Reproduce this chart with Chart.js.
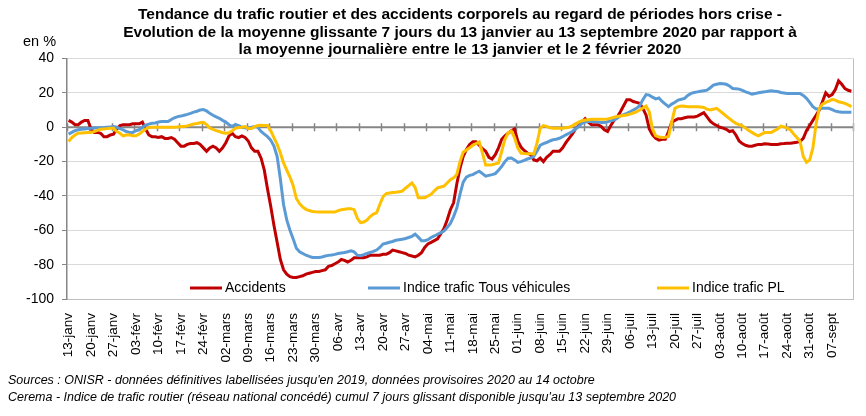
<!DOCTYPE html>
<html>
<head>
<meta charset="utf-8">
<script src="https://cdn.jsdelivr.net/npm/chart.js@4.4.0/dist/chart.umd.min.js"></script>
<style>
  html, body { margin: 0; padding: 0; background: #fff; }
  #wrap { width: 866px; height: 416px; }
</style>
</head>
<body>
<div id="wrap"><canvas id="canva1" width="866" height="416"></canvas></div>
<script>
// one value per day, 13 Jan -> 13 Sep 2020 (rows = weeks)
const tickLabels = ['13-janv', '20-janv', '27-janv', '03-févr', '10-févr', '17-févr', '24-févr', '02-mars', '09-mars', '16-mars',
  '23-mars', '30-mars', '06-avr', '13-avr', '20-avr', '27-avr', '04-mai', '11-mai', '18-mai', '25-mai', '01-juin', '08-juin',
  '15-juin', '22-juin', '29-juin', '06-juil', '13-juil', '20-juil', '27-juil', '03-août', '10-août', '17-août', '24-août',
  '31-août', '07-sept']
const seriesNames = ['Accidents', 'Indice trafic Tous véhicules', 'Indice trafic PL']
const yTicks = [40, 20, 0, -20, -40, -60, -80, -100]

const accidents = [
  4, 3, 1.5, 1.5, 3, 4, 4,
  -1, -3, -3, -3.5, -5.5, -5.5, -4.5,
  -4, -1, 1, 1.5, 1.5, 1.5, 2,
  2, 2, 3, -1, -4.5, -5.5, -5.5,
  -6, -5.5, -6.5, -6.5, -6, -7, -9,
  -11, -11, -10, -9.5, -9.5, -9, -10,
  -12, -14, -12, -11, -12, -14, -12,
  -9, -5, -3.5, -5.5, -6, -5, -6,
  -8, -12, -14, -14, -18, -25, -36,
  -46, -57, -67, -77, -83, -85.5, -87,
  -87.5, -87.5, -87, -86.5, -85.5, -85, -84.5,
  -84, -84, -83.5, -83, -81, -80.5, -79.5,
  -78.5, -77, -77.5, -78.5, -77.5, -76, -76,
  -76, -76, -75.5, -74.5, -74.5, -74.5, -74.5,
  -74, -74, -73, -71.5, -72, -72.5, -73,
  -73.5, -74.5, -75, -75.5, -74.5, -73, -70,
  -68, -67, -66, -65, -62, -59, -54,
  -48, -44, -33, -24, -17, -13, -10,
  -8.5, -8.5, -10.5, -12.5, -14, -17.5, -18.5,
  -16, -12, -7, -5, -3.5, -2, -1,
  -8, -11.5, -13.5, -15, -16, -19, -19.5,
  -18, -20, -17.5, -16, -14, -14, -14,
  -12, -9, -6.5, -4, -1, 1, 3,
  5, 3, 1.5, 1.5, 1.5, 0.5, -1.5,
  -2.5, 1, 4, 6, 9, 12.5, 16,
  16, 15, 14.5, 14, 11, 7, -1,
  -4.5, -6.5, -7.5, -7, -7, -2.5, 3,
  4, 5, 5, 5.5, 6, 6, 6,
  6.5, 7.5, 8.5, 6, 3.5, 2, 1,
  0, -0.5, -1.2, -2.5, -2, -4.5, -8,
  -9.5, -10.5, -11, -11, -10.5, -10, -10,
  -9.6, -9.8, -10, -10, -10, -9.6, -9.5,
  -9.3, -9.3, -9, -8.8, -8.3, -6.5, -2,
  1, 4, 7, 10, 15, 20, 18,
  19, 22, 27, 25, 22.5, 21.5, 21
]

const trafficAll = [
  -4, -3, -2, -1.5, -1.2, -1, -0.8,
  -0.6, -0.5, -0.4, -0.3, -0.2, 0, 0.2,
  0.4, 0, -0.8, -1.5, -2.5, -3, -3,
  -2, -1.5, 0, 1.3, 1.8, 2.3, 2.5,
  3, 3.3, 3.3, 3.3, 4.5, 5.5, 6.2,
  6.5, 7, 7.5, 8.1, 8.8, 9.3, 10,
  10.3, 9.5, 8.1, 7, 6, 5.2, 4,
  3, 1.5, 0.4, 1.7, 1, 0, -0.3,
  -0.6, 0, 0.4, 0, -2.5, -4, -5.5,
  -7.5, -11, -17, -30, -45, -54, -60,
  -65, -70.5, -72.5, -73.5, -74.5, -75.2, -75.8,
  -75.8, -75.8, -75.5, -75, -74.6, -74.4, -74,
  -73.5, -73.2, -72.9, -72.5, -72, -72.6, -74.5,
  -74.8, -74.2, -73.5, -72.9, -72.3, -71.5, -70,
  -68, -67.5, -67, -66.5, -65.8, -65.5, -65.2,
  -64.8, -64.2, -63.5, -62.3, -64, -66.1, -66.1,
  -65.5, -64.2, -63.3, -62.3, -61.4, -60.4, -58.4,
  -56, -52, -47, -39, -32, -29, -28,
  -27.6, -26.5, -25.6, -27, -28.5, -28, -27.6,
  -27, -25, -22.8, -20, -18, -17.9, -19,
  -20.4, -20, -19.3, -18.5, -17.9, -17, -14,
  -10.5, -9.5, -8.9, -8, -7.3, -7, -6.4,
  -5.5, -4.4, -3.5, -2.5, -1, 0.5, 2.3,
  3, 3.3, 3.3, 3.2, 3, 2.7, 2.7,
  3.2, 3.7, 4.2, 5.2, 6.6, 7.3, 8.1,
  9, 10, 11, 12.5, 16, 19, 18.7,
  17.5, 16.5, 17, 15, 13.5, 12, 13.5,
  14.5, 15.8, 16.3, 16.8, 18.5, 19.7, 20.2,
  20.6, 21, 21.3, 21.6, 23, 24.5, 25,
  25.5, 25.3, 25, 24, 22.6, 22.4, 22.2,
  21.5, 20.6, 20, 19.3, 19.6, 20.1, 20.4,
  20.6, 21, 21.2, 21, 20.8, 20.2, 20,
  19.7, 19.7, 19.7, 19.7, 19.7, 18.5, 16.8,
  14.5, 12, 10.6, 10.8, 11, 11, 11,
  10.2, 9.4, 9, 8.7, 8.7, 8.7, 8.7
]

const trafficPL = [
  -8.3, -6, -4.5, -3.5, -3.3, -3.2, -3.1,
  -3, -2.5, -1.8, -1.2, -1, -0.8, -0.6,
  -0.6, -2.5, -3.5, -5, -4.5, -4.4, -5,
  -5, -4, -2.5, -1, -0.2, 0, 0,
  0, 0, 0, 0, 0, 0, 0.2,
  0.4, 0.4, 0.8, 1.4, 1.9, 2.2, 2.6,
  2.9, 1.5, -0.5, -1.3, -2, -2.5, -3.2,
  -3.5, -3.2, -2, -0.6, -0.2, 0, 0.4,
  -0.8, -0.8, 0.4, 1, 1.2, 1, 1,
  -2, -6, -10, -15, -20.8, -25, -29,
  -34, -41.5, -44.5, -46.5, -47.8, -48.5, -49,
  -49.2, -49.3, -49.4, -49.4, -49.4, -49.4, -49.4,
  -48.6, -48, -47.8, -47.5, -47.4, -48, -53,
  -55.5, -55.2, -54, -52, -50.5, -49.8, -45,
  -40.5, -38.6, -38.3, -38, -37.8, -37.5, -37.2,
  -35.5, -34, -32.4, -35, -41, -41, -41,
  -40, -39, -37, -35.3, -34.8, -34.3, -32.5,
  -30.5, -29.5, -27.5, -20, -14.5, -13.2, -12,
  -10.5, -9.5, -8.5, -15, -22, -22, -21.8,
  -21.3, -20.8, -14, -7, -3.3, -2.2, -6,
  -12, -15, -15.3, -15.4, -15.5, -15.6, -9.3,
  -0.6, 1, 0.5, -0.3, -0.6, -0.6, -0.6,
  -0.6, -0.3, 0, 0.8, 2, 3, 3.8,
  4.2, 4.4, 4.6, 4.6, 4.6, 4.6, 4.6,
  4.8, 5.3, 5.8, 6.2, 6.5, 6.8, 7.1,
  7.6, 8.3, 9, 10, 11.2, 12.3, 9,
  -1, -5, -5.6, -6, -5.8, -5.4, 3,
  11, 12, 12.3, 12.2, 12, 12, 12,
  12, 11.8, 11.5, 10.5, 10, 10.5, 11,
  9.5, 8, 6.5, 5, 3.5, 2.3, 1.5,
  0.8, -0.5, -1.9, -3, -4.2, -5, -4,
  -3.1, -3.1, -3.1, -2, -1, 0.6, 0.2,
  -0.5, -1.5, -3.9, -6, -8.3, -17, -20.4,
  -19, -12, 2, 11, 13.5, 14.5, 15.2,
  16.2, 15.8, 14.8, 14.4, 13.9, 13, 12
]

const colors = ['#C00000', '#5B9BD5', '#FFC000']
const font = "'Liberation Sans', Arial, sans-serif"

const toPoints = arr => arr.map((v, i) => ({ x: i, y: v }))

// text around the plot, zero axis with its tick marks, legend inside the plot
const extras = {
    id: 'extras',
    beforeDatasetsDraw(chart) {
        const c = chart.ctx, a = chart.chartArea
        const xs = chart.scales.x, ys = chart.scales.y
        const y0 = ys.getPixelForValue(0)
        c.save()
        c.strokeStyle = '#868686'
        c.lineWidth = 2
        c.beginPath()
        c.moveTo(a.left, y0)
        c.lineTo(a.right, y0)
        c.stroke()
        c.lineWidth = 1.5
        for (let k = 0; k <= tickLabels.length; k++) {
            const x = Math.round(xs.getPixelForValue(k * 7 - 0.5)) + 0.5
            c.beginPath()
            c.moveTo(x, y0 - 4)
            c.lineTo(x, y0 + 4)
            c.stroke()
        }
        // plot border on the right
        c.strokeStyle = '#bfbfbf'
        c.lineWidth = 1
        c.beginPath()
        c.moveTo(a.right + 0.5, a.top)
        c.lineTo(a.right + 0.5, a.bottom)
        c.stroke()
        c.restore()
    },
    afterDraw(chart) {
        const c = chart.ctx, a = chart.chartArea
        c.save()
        c.fillStyle = '#000'
        c.textBaseline = 'middle'
        c.font = '14.5px ' + font
        c.fillText('en %', 23, 42)

        // legend
        const ly = a.bottom - 11
        const lx = [190, 368, 657]
        c.font = '14px ' + font
        seriesNames.forEach((name, i) => {
            c.strokeStyle = colors[i]
            c.lineWidth = 3
            c.beginPath()
            c.moveTo(lx[i], ly)
            c.lineTo(lx[i] + 32, ly)
            c.stroke()
            c.fillText(name, lx[i] + 35, ly)
        })

        c.font = 'italic 12.5px ' + font
        c.fillText("Sources : ONISR - données définitives labellisées jusqu'en 2019, données provisoires 2020 au 14 octobre", 8, 381)
        c.fillText("Cerema - Indice de trafic routier (réseau national concédé) cumul 7 jours glissant disponible jusqu'au 13 septembre 2020", 8, 398)
        c.restore()
    }
}

const ctx1 = document.getElementById('canva1').getContext('2d')
const myChart = new Chart(ctx1, {
    type: 'line',
    data: {
        datasets: [{
            label: seriesNames[0],
            data: toPoints(accidents),
            borderColor: colors[0],
            order: 3,
        }, {
            label: seriesNames[1],
            data: toPoints(trafficAll),
            borderColor: colors[1],
            order: 2,
        }, {
            label: seriesNames[2],
            data: toPoints(trafficPL),
            borderColor: colors[2],
            order: 1,
        }]
    },
    options: {
        responsive: false,
        animation: false,
        events: [],
        elements: {
            line: { borderWidth: 3, tension: 0, fill: false },
            point: { radius: 0 }
        },
        layout: {
            padding: { left: 0, right: 13, top: 0, bottom: 50 }
        },
        scales: {
            x: {
                type: 'linear',
                min: -0.5,
                max: 244.5,
                afterBuildTicks: axis => {
                    axis.ticks = tickLabels.map((l, i) => ({ value: i * 7 }))
                },
                afterFit: axis => { axis.height = 67 },
                grid: { display: false },
                border: { display: true, color: '#bfbfbf', width: 1 },
                ticks: {
                    autoSkip: false,
                    maxRotation: 90,
                    minRotation: 90,
                    padding: 6,
                    color: '#000',
                    font: { family: font, size: 13.5 },
                    callback: (value, index) => tickLabels[index]
                }
            },
            y: {
                min: -100,
                max: 40,
                afterBuildTicks: axis => {
                    axis.ticks = yTicks.map(v => ({ value: v }))
                },
                afterFit: axis => { axis.width = 67 },
                grid: {
                    color: c => c.tick && c.tick.value === 0 ? 'rgba(0,0,0,0)' : '#d9d9d9',
                    lineWidth: 1,
                    drawTicks: true,
                    tickLength: 5,
                    tickColor: '#868686'
                },
                border: { display: true, color: '#868686', width: 1.5 },
                ticks: {
                    padding: 8,
                    color: '#000',
                    font: { family: font, size: 14 }
                }
            }
        },
        plugins: {
            legend: { display: false },
            tooltip: { enabled: false },
            title: {
                display: true,
                fullSize: false,
                text: [
                    'Tendance du trafic routier et des accidents corporels au regard de périodes hors crise -',
                    'Evolution de la moyenne glissante 7 jours du 13 janvier au 13 septembre 2020 par rapport à',
                    'la moyenne journalière entre le 13 janvier et le 2 février 2020'
                ],
                color: '#000',
                font: { family: font, size: 15.5, weight: 'bold', lineHeight: 1.13 },
                padding: { top: 6, bottom: 0 }
            }
        }
    },
    plugins: [extras]
});
</script>
</body>
</html>
